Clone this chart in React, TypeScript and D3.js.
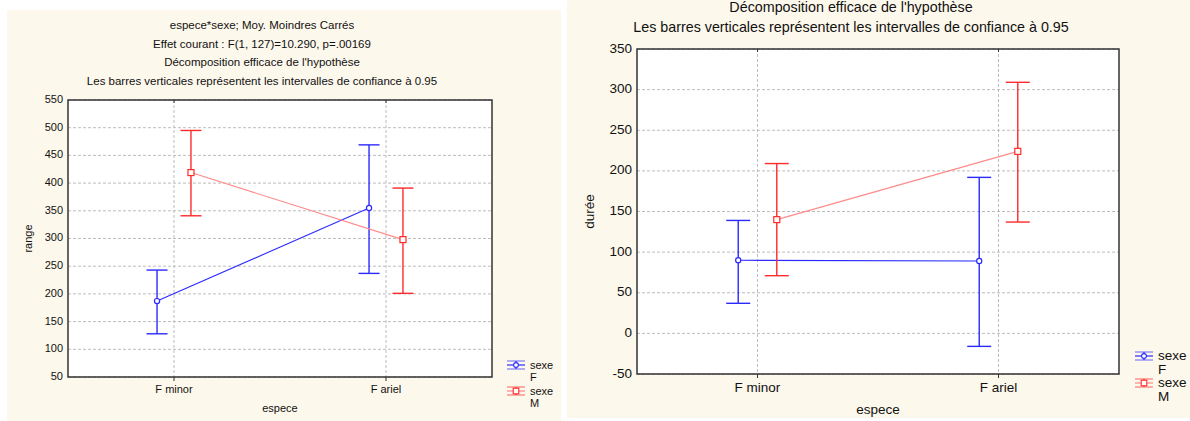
import React from "react";
import * as d3 from "d3";

const categories = ["F minor", "F ariel"];
const sexes = ["F", "M"];

// Left panel: range
const rangeMeanF = [187, 355];
const rangeLowF = [128, 237];
const rangeHighF = [243, 469];
const rangeMeanM = [419, 298];
const rangeLowM = [341, 201];
const rangeHighM = [495, 391];
const rangeTicks = [50, 100, 150, 200, 250, 300, 350, 400, 450, 500, 550];
const leftTitles = [
  "espece*sexe; Moy. Moindres Carrés",
  "Effet courant : F(1, 127)=10.290, p=.00169",
  "Décomposition efficace de l'hypothèse",
  "Les barres verticales représentent les intervalles de confiance à 0.95",
];

// Right panel: durée
const dureeMeanF = [90, 89];
const dureeLowF = [37, -16];
const dureeHighF = [139, 192];
const dureeMeanM = [140, 224];
const dureeLowM = [71, 137];
const dureeHighM = [209, 309];
const dureeTicks = [-50, 0, 50, 100, 150, 200, 250, 300, 350];
const rightTitles = [
  "Décomposition efficace de l'hypothèse",
  "Les barres verticales représentent les intervalles de confiance à 0.95",
];

const BLUE = "#2a2aff";
const RED = "#ff2a2a";
const RED_LINE = "#ff8a8a";
const CREAM = "#fdf8ec";
const FONT = "'Liberation Sans', Arial, sans-serif";

type SeriesData = { mean: number[]; low: number[]; high: number[] };

type PanelProps = {
  bg: [number, number, number, number];
  plot: [number, number, number, number];
  domain: [number, number];
  ticks: number[];
  yLabel: string;
  yLabelX: number;
  titles: string[];
  titleX: number;
  titleY0: number;
  titleDy: number;
  titleSize: number;
  fontSize: number;
  capW: number;
  xLabelY: number;
  xTickY: number;
  legendX: number;
  legendY: number;
  legendDy: number;
  legendLine: number;
  F: SeriesData;
  M: SeriesData;
};

function Panel(p: PanelProps) {
  const [x0, y0, x1, y1] = p.plot;
  const y = d3.scaleLinear().domain(p.domain).range([y1, y0]);
  const x = d3.scalePoint<string>().domain(categories).range([x0, x1]).padding(0.5);
  const step = x.step();
  const off = step * 0.08;
  const seriesList = [
    { key: sexes[0], d: p.F, dx: -off, color: BLUE, lineColor: BLUE, shape: "circle" },
    { key: sexes[1], d: p.M, dx: off, color: RED, lineColor: RED_LINE, shape: "square" },
  ];
  const line = d3
    .line<number>()
    .x((_, i) => (x(categories[i]) as number))
    .y((v) => y(v));
  return (
    <g>
      <rect x={p.bg[0]} y={p.bg[1]} width={p.bg[2] - p.bg[0]} height={p.bg[3] - p.bg[1]} fill={CREAM} />
      {p.titles.map((t, i) => (
        <text key={i} x={p.titleX} y={p.titleY0 + i * p.titleDy} textAnchor="middle" fontSize={p.titleSize} fill="#111">
          {t}
        </text>
      ))}
      <rect x={x0} y={y0} width={x1 - x0} height={y1 - y0} fill="#fff" />
      {p.ticks.map((t) => (
        <line key={"g" + t} x1={x0} x2={x1} y1={y(t)} y2={y(t)} stroke="#bdbdbd" strokeDasharray="3,2" strokeWidth={1} />
      ))}
      {categories.map((c) => (
        <line key={"v" + c} x1={x(c)} x2={x(c)} y1={y0} y2={y1} stroke="#bdbdbd" strokeDasharray="3,2" strokeWidth={1} />
      ))}
      <rect x={x0} y={y0} width={x1 - x0} height={y1 - y0} fill="none" stroke="#333" strokeWidth={1.5} />
      {categories.map((c) => (
        <g key={"t" + c}>
          <line x1={x(c)} x2={x(c)} y1={y1} y2={y1 + 4} stroke="#333" />
          <line x1={x(c)} x2={x(c)} y1={y0} y2={y0 + 3} stroke="#333" />
          <text x={x(c)} y={p.xTickY} textAnchor="middle" fontSize={p.fontSize} fill="#111" dominantBaseline="middle">
            {c}
          </text>
        </g>
      ))}
      {p.ticks.map((t) => (
        <text key={"yl" + t} x={x0 - 5} y={y(t)} textAnchor="end" dominantBaseline="middle" fontSize={p.fontSize} fill="#111">
          {t}
        </text>
      ))}
      <text
        transform={`translate(${p.yLabelX},${(y0 + y1) / 2}) rotate(-90)`}
        textAnchor="middle"
        dominantBaseline="middle"
        fontSize={p.fontSize}
        fill="#111"
      >
        {p.yLabel}
      </text>
      <text x={(x0 + x1) / 2} y={p.xLabelY} textAnchor="middle" fontSize={p.fontSize} fill="#111">
        espece
      </text>
      {seriesList.map((s) => (
        <g key={s.key} transform={`translate(${s.dx},0)`}>
          <path d={line(s.d.mean) || ""} fill="none" stroke={s.lineColor} strokeWidth={1.1} />
          {categories.map((c, i) => {
            const cx = x(c) as number;
            return (
              <g key={c}>
                <line x1={cx} x2={cx} y1={y(s.d.low[i])} y2={y(s.d.high[i])} stroke={s.color} strokeWidth={1.4} />
                <line x1={cx - p.capW / 2} x2={cx + p.capW / 2} y1={y(s.d.low[i])} y2={y(s.d.low[i])} stroke={s.color} strokeWidth={1.4} />
                <line x1={cx - p.capW / 2} x2={cx + p.capW / 2} y1={y(s.d.high[i])} y2={y(s.d.high[i])} stroke={s.color} strokeWidth={1.4} />
                {s.shape === "circle" ? (
                  <circle cx={cx} cy={y(s.d.mean[i])} r={2.6} fill="#fff" stroke={s.color} strokeWidth={1.2} />
                ) : (
                  <rect x={cx - 3} y={y(s.d.mean[i]) - 3} width={6} height={6} fill="#fff" stroke={s.color} strokeWidth={1.2} />
                )}
              </g>
            );
          })}
        </g>
      ))}
      {seriesList.map((s, i) => {
        const ly = p.legendY + i * p.legendDy;
        const lx = p.legendX;
        const w = 18;
        return (
          <g key={"lg" + s.key}>
            <line x1={lx} x2={lx + w} y1={ly - 4} y2={ly - 4} stroke={s.color} strokeWidth={1.2} opacity={0.6} />
            <line x1={lx} x2={lx + w} y1={ly + 4} y2={ly + 4} stroke={s.color} strokeWidth={1.2} opacity={0.6} />
            <line x1={lx} x2={lx + w} y1={ly} y2={ly} stroke={s.lineColor} strokeWidth={1.2} />
            <line x1={lx + w / 2} x2={lx + w / 2} y1={ly - 4} y2={ly + 4} stroke={s.color} strokeWidth={1.2} />
            {s.shape === "circle" ? (
              <circle cx={lx + w / 2} cy={ly} r={2.4} fill="#fff" stroke={s.color} strokeWidth={1.1} />
            ) : (
              <rect x={lx + w / 2 - 2.8} y={ly - 2.8} width={5.6} height={5.6} fill="#fff" stroke={s.color} strokeWidth={1.1} />
            )}
            <text x={lx + w + 5} y={ly + 4} fontSize={p.fontSize} fill="#111">
              sexe
            </text>
            <text x={lx + w + 5} y={ly + 3 + p.legendLine} fontSize={p.fontSize} fill="#111">
              {s.key}
            </text>
          </g>
        );
      })}
    </g>
  );
}

export default function App() {
  return (
    <svg
      width={1190}
      height={421}
      style={{ position: "absolute", left: 0, top: 0, background: "#fff", fontFamily: FONT }}
    >
      <Panel
        bg={[7, 10, 561, 421]}
        plot={[68, 100, 492, 377]}
        domain={[50, 550]}
        ticks={rangeTicks}
        yLabel="range"
        yLabelX={29}
        titles={leftTitles}
        titleX={262}
        titleY0={29}
        titleDy={18.5}
        titleSize={11.5}
        fontSize={11}
        capW={21}
        xLabelY={412}
        xTickY={390}
        legendX={507}
        legendY={365}
        legendDy={26}
        legendLine={13}
        F={{ mean: rangeMeanF, low: rangeLowF, high: rangeHighF }}
        M={{ mean: rangeMeanM, low: rangeLowM, high: rangeHighM }}
      />
      <Panel
        bg={[567, 0, 1190, 418]}
        plot={[637, 49, 1119, 374]}
        domain={[-50, 350]}
        ticks={dureeTicks}
        yLabel="durée"
        yLabelX={590}
        titles={rightTitles}
        titleX={851}
        titleY0={12}
        titleDy={19.5}
        titleSize={14.3}
        fontSize={13.5}
        capW={24}
        xLabelY={414}
        xTickY={388}
        legendX={1135}
        legendY={356}
        legendDy={27}
        legendLine={15}
        F={{ mean: dureeMeanF, low: dureeLowF, high: dureeHighF }}
        M={{ mean: dureeMeanM, low: dureeLowM, high: dureeHighM }}
      />
    </svg>
  );
}
